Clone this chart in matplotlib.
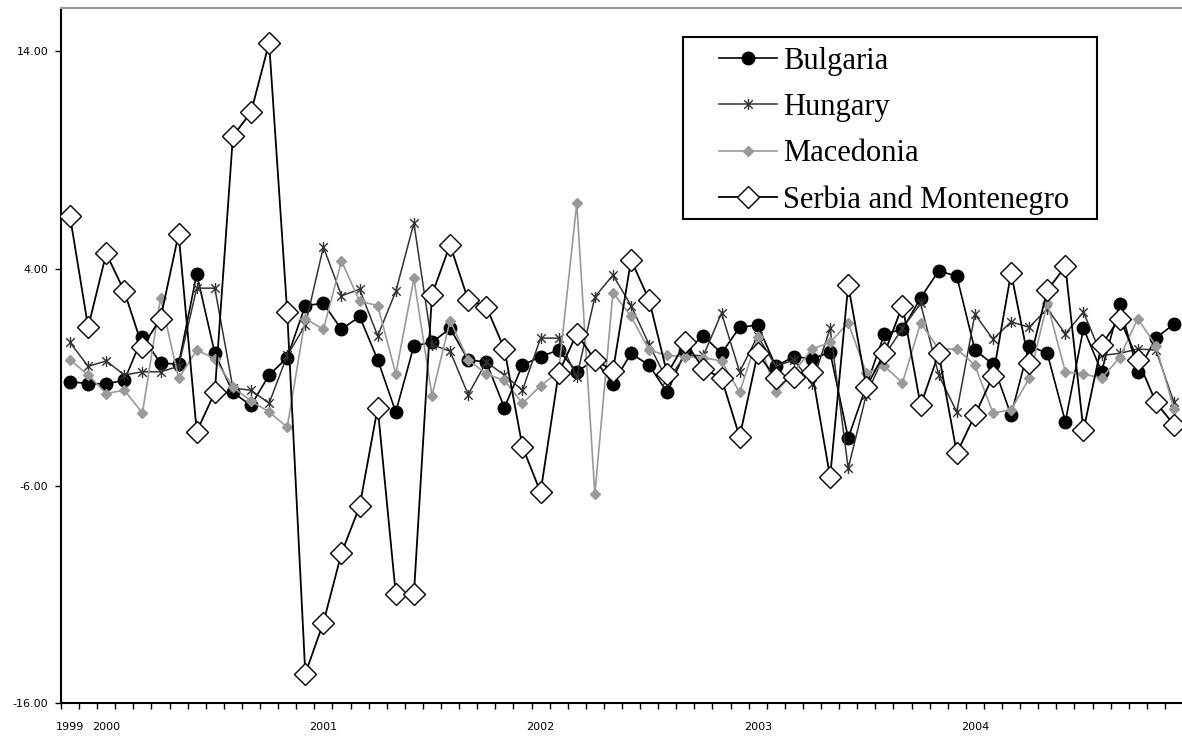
import numpy as np
import matplotlib.pyplot as plt
from matplotlib.path import Path
from matplotlib.patches import Rectangle

# monthly values, Nov 1999 .. Dec 2004
bulgaria = [-1.2, -1.3, -1.3, -1.15, 0.85, -0.35, -0.4, 3.75, 0.1, -1.7,
            -2.3, -0.9, -0.1, 2.3, 2.4, 1.2, 1.8, -0.2, -2.6, 0.45,
            0.6, 1.25, -0.2, -0.3, -2.4, -0.45, -0.05, 0.25, -0.75, -0.2,
            -1.3, 0.1, -0.45, -1.7, 0.2, 0.9, 0.1, 1.3, 1.4, -0.5,
            -0.05, -0.15, 0.15, -3.8, -1.4, 1.0, 1.2, 2.65, 3.9, 3.65,
            0.25, -0.4, -2.75, 0.45, 0.1, -3.05, 1.25, -0.75, 2.35, -0.75,
            0.8, 1.45]
hungary = [0.6, -0.5, -0.25, -0.9, -0.75, -0.75, -0.5, 3.1, 3.1, -1.5,
           -1.6, -2.2, 0.0, 1.4, 5.0, 2.75, 3.05, 0.9, 2.95, 6.1,
           0.5, 0.2, -1.8, -0.3, -0.9, -1.6, 0.8, 0.8, -1.0, 2.7,
           3.7, 2.3, 0.5, -1.15, 0.0, 0.0, 1.95, -0.75, 0.9, -0.5,
           -0.2, -1.3, 1.25, -5.2, -1.8, 0.0, 1.25, 2.4, -0.9, -2.6,
           1.9, 0.75, 1.55, 1.3, 2.15, 1.0, 2.0, 0.0, 0.1, 0.3,
           0.25, -2.15]
macedonia = [-0.2, -0.9, -1.75, -1.6, -2.65, 2.65, -1.05, 0.25, -0.15, -1.45,
             -2.1, -2.6, -3.3, 1.7, 1.2, 4.35, 2.5, 2.3, -0.85, 3.55,
             -1.85, 1.6, -0.2, -0.85, -1.15, -2.2, -1.4, -0.75, 7.0, -6.4,
             2.9, 1.8, 0.25, 0.0, -0.05, -0.1, -0.25, -1.7, 0.85, -1.7,
             -0.75, 0.3, 0.6, 1.5, -0.8, -0.5, -1.25, 1.5, 0.3, 0.3,
             -0.45, -2.65, -2.5, -1.05, 2.4, -0.75, -0.85, -1.05, -0.1, 1.7,
             0.45, -2.45]
serbia = [6.4, 1.3, 4.7, 2.95, 0.4, 1.7, 5.6, -3.5, -1.7, 10.1,
          11.2, 14.4, 2.0, -14.65, -12.3, -9.1, -6.95, -2.4, -11.0, -11.0,
          2.8, 5.1, 2.55, 2.25, 0.3, -4.2, -6.3, -0.8, 1.0, -0.2,
          -0.7, 4.4, 2.55, -0.85, 0.6, -0.6, -1.05, -3.75, 0.1, -1.05,
          -1.0, -0.75, -5.6, 3.25, -1.45, 0.1, 2.3, -2.3, 0.1, -4.5,
          -2.75, -0.95, 3.8, -0.35, 3.0, 4.1, -3.45, 0.5, 1.7, -0.2,
          -2.15, -3.2]

year_labels = ["1999", "2000", "2001", "2002", "2003", "2004"]
year_pos = [0, 2, 14, 26, 38, 50]
y_ticks = [-16, -6, 4, 14]

months = np.arange(len(bulgaria))

# excel style asterisk: x with a vertical bar
asterisk = Path([(-1, -1), (1, 1), (-1, 1), (1, -1), (0, -1.3), (0, 1.3)],
                [Path.MOVETO, Path.LINETO, Path.MOVETO, Path.LINETO,
                 Path.MOVETO, Path.LINETO])

fig = plt.figure(figsize=(11.82, 7.40), dpi=100)
ax = fig.add_axes([61 / 1182, 1 - 703 / 740, 1122 / 1182, 695 / 740])

ax.plot(months, bulgaria, color="black", lw=1.2, marker="o", ms=9,
        label="Bulgaria", zorder=3)
ax.plot(months, hungary, color="#333333", lw=1.1, marker=asterisk, ms=8,
        mew=1.0, mec="#333333", label="Hungary", zorder=4)
ax.plot(months, macedonia, color="#999999", lw=1.2, marker="D", ms=5.5,
        label="Macedonia", zorder=5)
ax.plot(months, serbia, color="black", lw=1.3, marker="D", ms=11,
        mfc="white", mec="black", mew=1.0, label="Serbia and Montenegro",
        zorder=6)

ax.set_xlim(-0.5, len(bulgaria) - 0.5)
ax.set_ylim(-16, 16)

ax.set_yticks(y_ticks)
ax.set_yticklabels([f"{v:.2f}" for v in y_ticks])
ax.tick_params(axis="y", direction="out", length=4, width=1, pad=5,
               labelsize=8)

ax.set_xticks(np.arange(-0.5, len(bulgaria), 1))
ax.set_xticklabels([])
ax.tick_params(axis="x", which="major", direction="out", length=4, width=1)
ax.set_xticks(year_pos, minor=True)
ax.set_xticklabels(year_labels, minor=True)
ax.tick_params(axis="x", which="minor", length=0, pad=14, labelsize=8)

for s in ["left", "bottom"]:
    ax.spines[s].set_linewidth(1.5)
ax.spines["right"].set_visible(False)
ax.spines["top"].set_color("#9a9a9a")
ax.spines["top"].set_linewidth(1.5)

# legend box
box = Rectangle(((683 - 61) / 1122, (703 - 219) / 695), 414 / 1122, 182 / 695,
                transform=ax.transAxes, facecolor="white", edgecolor="black",
                lw=1.5, zorder=10)
ax.add_patch(box)
leg = ax.legend(loc="upper left", bbox_to_anchor=((719 - 61) / 1122, (703 - 47) / 695),
                frameon=False, borderpad=0, borderaxespad=0,
                handlelength=1.9, handletextpad=0.2, labelspacing=0.56,
                prop={"family": "Liberation Serif", "size": 22})
leg.set_zorder(11)

plt.savefig("out.png", dpi=100)
